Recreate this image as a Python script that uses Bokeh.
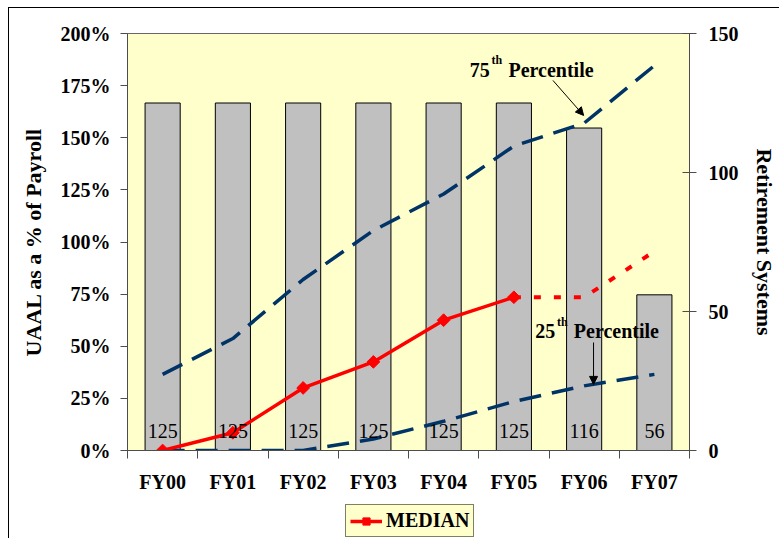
import math
from bokeh.plotting import figure
from bokeh.layouts import column
from bokeh.models import (Range1d, LinearAxis, FixedTicker, NumeralTickFormatter, ColumnDataSource,
                          LabelSet, Label, Arrow, NormalHead, Legend, LegendItem)
from bokeh.embed import file_html
from bokeh.resources import INLINE

# ---------------- data ----------------
fiscal_years = ["FY00", "FY01", "FY02", "FY03", "FY04", "FY05", "FY06", "FY07"]
systems = [125, 125, 125, 125, 125, 125, 116, 56]
median_years = ["FY00", "FY01", "FY02", "FY03", "FY04", "FY05"]
median_actual = [0.0, 0.085, 0.30, 0.425, 0.625, 0.735]
projected_years = ["FY05", "FY06", "FY07"]
median_projected = [0.735, 0.735, 0.955]
pct75 = [0.365, 0.537, 0.82, 1.055, 1.23, 1.46, 1.57, 1.846]
pct25 = [0.0, 0.0, 0.0, 0.055, 0.14, 0.235, 0.31, 0.365]
left_ticks = [0.0, 0.25, 0.5, 0.75, 1.0, 1.25, 1.5, 1.75, 2.0]
right_ticks = [0, 50, 100, 150]

FONT = "Liberation Serif"
RED = "#FF0000"
NAVY = "#003366"

pos = {fy: i + 0.5 for i, fy in enumerate(fiscal_years)}
xs = [pos[f] for f in fiscal_years]

p = figure(width=779, height=500, x_range=Range1d(0, len(fiscal_years)), y_range=Range1d(0, 2),
           output_backend="svg", toolbar_location=None,
           min_border_left=127, min_border_right=84, min_border_top=33, min_border_bottom=50,
           background_fill_color="#FFFFCC", border_fill_color="white", border_fill_alpha=0.0,
           outline_line_color="#666666", outline_line_width=1)
p.extra_y_ranges = {"sys": Range1d(0, 150)}
p.xgrid.visible = False
p.ygrid.visible = False

# bars
bar_src = ColumnDataSource(dict(x=xs, top=systems, lab=[str(s) for s in systems], zero=[0] * len(xs)))
p.vbar(x="x", top="top", width=0.5, bottom=0, y_range_name="sys", source=bar_src,
       fill_color="#C0C0C0", line_color="black", line_width=1)

# percentiles
p.line(xs, pct75, line_color=NAVY, line_width=3.5, line_dash="22 11")
p.line(xs, pct25, line_color=NAVY, line_width=3.5, line_dash="22 11")

# median
mx = [pos[f] for f in median_years]
p.line(mx, median_actual, line_color=RED, line_width=3.5)
p.line([pos[f] for f in projected_years], median_projected, line_color=RED, line_width=4, line_dash="7 13")
p.scatter(mx, median_actual, marker="square", angle=math.pi / 4, size=9, fill_color=RED, line_color=RED)

# bar count labels
labels = LabelSet(x="x", y="zero", text="lab", source=bar_src, y_range_name="sys",
                  text_align="center", text_baseline="alphabetic", y_offset=13,
                  text_font=FONT, text_font_size="20px", text_color="black")
p.add_layout(labels)

# axes
axis_common = dict(major_label_text_font=FONT, major_label_text_font_style="bold",
                   major_label_text_font_size="20px", major_label_text_color="black",
                   axis_label_text_font=FONT, axis_label_text_font_style="bold",
                   axis_label_text_font_size="22px", axis_label_text_color="black",
                   axis_line_color="#4d4d4d", major_tick_line_color="#4d4d4d",
                   minor_tick_line_color="#4d4d4d")

ly = p.yaxis[0]
ly.ticker = FixedTicker(ticks=left_ticks)
ly.formatter = NumeralTickFormatter(format="0%")
ly.axis_label = "UAAL as a % of Payroll"
ly.major_tick_out = 7
ly.major_tick_in = 0
ly.minor_tick_out = 0
ly.minor_tick_in = 0
ly.major_label_standoff = 10
ly.axis_label_standoff = 12
for k, v in axis_common.items():
    setattr(ly, k, v)

ry = LinearAxis(y_range_name="sys", ticker=FixedTicker(ticks=right_ticks), axis_label="Retirement Systems",
                major_tick_in=7, major_tick_out=7, minor_tick_in=0, minor_tick_out=0,
                major_label_standoff=12, axis_label_standoff=10, **axis_common)
p.add_layout(ry, "right")

bx = p.xaxis[0]
bx.ticker = FixedTicker(ticks=xs, minor_ticks=list(range(len(fiscal_years) + 1)))
bx.major_label_overrides = {pos[f]: f for f in fiscal_years}
bx.major_tick_in = 0
bx.major_tick_out = 0
bx.minor_tick_in = 0
bx.minor_tick_out = 8
bx.major_label_standoff = 12
for k, v in axis_common.items():
    setattr(bx, k, v)

# annotations
def add_pct_label(x, y, num):
    p.add_layout(Label(x=x, y=y, text=num, text_font=FONT, text_font_style="bold", text_color="black",
                       text_font_size="20px", text_baseline="alphabetic"))
    p.add_layout(Label(x=x + 0.31, y=y + 0.045, text="th", text_font=FONT, text_font_style="bold",
                       text_color="black", text_font_size="12px", text_baseline="alphabetic"))
    p.add_layout(Label(x=x + 0.55, y=y, text="Percentile", text_font=FONT, text_font_style="bold",
                       text_color="black", text_font_size="20px", text_baseline="alphabetic"))

add_pct_label(4.873, 1.827, "75")
add_pct_label(5.803, 0.571, "25")

p.add_layout(Arrow(end=NormalHead(size=8, fill_color="black", line_color="black"),
                   x_start=6.056, y_start=1.775, x_end=6.493, y_end=1.607,
                   line_color="black", line_width=1))
p.add_layout(Arrow(end=NormalHead(size=8, fill_color="black", line_color="black"),
                   x_start=6.634, y_start=0.518, x_end=6.634, y_end=0.317,
                   line_color="black", line_width=1))

# legend strip (separate small figure so the box is not clipped by the main frame);
# its ranges keep the median series out of view, only the legend is shown
lg = figure(width=779, height=38, x_range=Range1d(-20, -19), y_range=Range1d(-20, -19),
            output_backend="svg", toolbar_location=None, min_border=0,
            background_fill_alpha=0.0, border_fill_alpha=0.0, outline_line_color=None)
lg.axis.visible = False
lg.grid.visible = False
l_line = lg.line(mx, median_actual, line_color=RED, line_width=3.5)
l_pts = lg.scatter(mx, median_actual, marker="square", angle=math.pi / 4, size=9,
                   fill_color=RED, line_color=RED)
legend = Legend(items=[LegendItem(label="MEDIAN", renderers=[l_line, l_pts])],
                location=(218, 1), orientation="horizontal",
                border_line_color="black", border_line_width=1,
                background_fill_color="#FFFFCC", background_fill_alpha=1.0,
                label_text_font=FONT, label_text_font_style="bold", label_text_font_size="20px",
                label_text_color="black",
                label_height=18, glyph_width=32, glyph_height=18, label_standoff=4, padding=4,
                margin=0, spacing=0)
lg.add_layout(legend)

layout = column(p, lg, spacing=0)
layout.styles = {"background": "linear-gradient(#000,#000) 8px 7px / 1px 100% no-repeat, "
                               "linear-gradient(#000,#000) 8px 7px / 100% 1px no-repeat, white"}

open("out.html", "w").write(file_html(layout, INLINE))
